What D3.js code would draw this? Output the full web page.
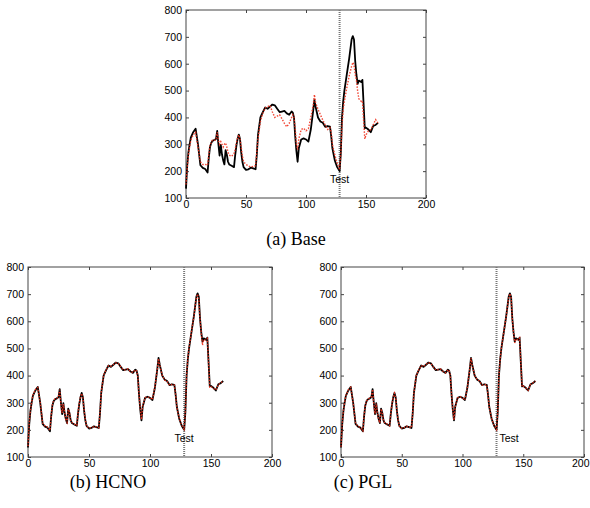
<!DOCTYPE html>
<html>
<head>
<meta charset="utf-8">
<script src="https://cdn.jsdelivr.net/npm/d3@7"></script>
<style>
  html, body { margin: 0; padding: 0; background: #fff; }
  svg { display: block; }
</style>
</head>
<body>
<svg id="chart" width="590" height="508"></svg>
<script>
// ---- data ----
const t = [0,1,2,3,4,6,8,10,12,14,16,18,19,20,21,22,24,25,26,27,28,29,30,31,32,33,34,35,36,38,40,41,42,43,44,45,46,47,48,50,52,54,56,58,59,60,62,64,66,68,70,72,74,76,78,80,82,84,86,88,89,90,91,92,93,94,96,98,100,102,104,106,107,108,110,112,114,116,118,120,121,122,124,126,128,129,130,131,132,134,136,138,139,140,141,142,143,144,146,147,148,149,150,152,154,156,158,160];

const actual = [135,220,270,300,325,345,358,300,222,212,208,195,250,290,305,312,317,320,350,300,258,298,262,240,225,278,262,235,225,220,215,260,295,320,336,320,270,235,215,205,207,213,210,207,260,335,400,420,437,432,440,448,445,432,420,422,424,415,410,422,418,400,330,275,235,285,318,322,318,310,355,425,465,440,400,385,380,365,368,366,330,285,240,215,200,265,400,460,500,560,620,690,703,690,610,560,525,537,532,540,450,360,362,355,345,368,372,380];

const predBase = [150,210,260,290,315,335,345,290,235,225,225,222,260,295,305,315,315,318,345,315,300,310,300,290,300,305,290,270,260,255,265,280,305,325,335,320,290,255,235,225,220,215,218,220,270,320,385,415,435,440,445,420,400,405,410,395,378,365,378,400,410,400,360,300,280,320,355,360,350,358,400,445,485,455,430,410,390,372,355,362,345,300,260,230,205,265,370,430,460,510,555,590,605,595,560,540,500,470,460,462,390,320,335,350,355,372,392,380];

const predHCNO = [140,225,272,302,328,348,356,302,225,214,210,198,252,292,307,314,318,322,348,296,262,295,265,238,228,275,265,232,227,221,217,262,297,322,334,318,272,237,214,206,208,212,211,208,262,337,402,421,436,434,441,447,444,433,421,421,425,414,411,421,417,398,328,278,238,287,319,321,319,311,357,424,462,438,401,384,379,364,367,365,328,283,242,217,202,268,402,462,502,562,618,688,700,680,608,558,512,532,530,536,448,358,360,353,347,366,374,379];

const predPGL = [138,222,271,301,326,347,357,301,223,213,209,197,251,291,306,313,318,321,349,299,259,297,263,239,226,277,263,234,226,221,216,261,296,321,335,319,271,236,215,206,208,213,210,208,261,336,401,421,437,433,441,448,445,432,421,422,424,415,410,421,418,399,329,276,236,286,318,322,318,310,356,425,464,439,401,385,380,365,367,366,329,284,241,216,201,266,401,461,501,561,619,689,702,688,609,559,520,535,531,538,449,359,361,354,346,367,373,380];

const xTicks = [0,50,100,150,200];
const yTicks = [100,200,300,400,500,600,700,800];
const testAt = 128;
const testLabel = "Test";
const captions = ["(a) Base", "(b) HCNO", "(c) PGL"];

// ---- drawing ----
const svg = d3.select("#chart");
const W = 590;

function panel(box, pred, labelMode, caption, capPos) {
  const x = d3.scaleLinear().domain([0,200]).range([box.l, box.r]);
  const y = d3.scaleLinear().domain([100,800]).range([box.b, box.t]);
  const g = svg.append("g");

  // frame
  g.append("rect").attr("x", box.l).attr("y", box.t)
    .attr("width", box.r - box.l).attr("height", box.b - box.t)
    .attr("fill", "none").attr("stroke", "#444").attr("stroke-width", 1);

  // axes (inward ticks)
  const ax = g.append("g").attr("transform", `translate(0,${box.b})`)
    .call(d3.axisBottom(x).tickValues(xTicks).tickSizeInner(-3).tickSizeOuter(0).tickPadding(4));
  const ay = g.append("g").attr("transform", `translate(${box.l},0)`)
    .call(d3.axisLeft(y).tickValues(yTicks).tickSizeInner(-3).tickSizeOuter(0).tickPadding(4));
  const axT = g.append("g").attr("transform", `translate(0,${box.t})`)
    .call(d3.axisTop(x).tickValues(xTicks).tickSizeInner(-3).tickSizeOuter(0).tickFormat(""));
  const ayR = g.append("g").attr("transform", `translate(${box.r},0)`)
    .call(d3.axisRight(y).tickValues(yTicks).tickSizeInner(-3).tickSizeOuter(0).tickFormat(""));
  [ax, ay, axT, ayR].forEach(a => {
    a.select(".domain").remove();
    a.selectAll(".tick line").attr("stroke", "#444");
    a.selectAll("text").attr("font-family", "Liberation Sans, Arial, sans-serif")
      .attr("font-size", 10.5).attr("fill", "#000");
  });
  ax.selectAll("text").attr("dy", "0.6em");
  // keep right-most x label inside the page
  ax.selectAll(".tick").each(function(d) {
    const tx = d3.select(this).select("text");
    if (x(d) + 9 > W) tx.attr("text-anchor", "end").attr("x", W - 1 - x(d));
  });

  // test line
  g.append("line").attr("x1", x(testAt)).attr("x2", x(testAt))
    .attr("y1", box.t).attr("y2", box.b)
    .attr("stroke", "#777").attr("stroke-width", 2).attr("stroke-dasharray", "1,1");

  const line = d3.line().x((d,i) => x(t[i])).y(d => y(d)).curve(d3.curveLinear);

  // actual
  g.append("path").datum(actual).attr("d", line)
    .attr("fill", "none").attr("stroke", "#000").attr("stroke-width", 1.8)
    .attr("stroke-linejoin", "round");
  // predicted (dotted red)
  g.append("path").datum(pred).attr("d", line)
    .attr("fill", "none").attr("stroke", "#f0321e").attr("stroke-width", 1.4)
    .attr("stroke-dasharray", "1.5,1.5").attr("opacity", 0.9);

  // test label
  const lt = g.append("text").text(testLabel)
    .attr("y", y(155)).attr("font-family", "Liberation Sans, Arial, sans-serif")
    .attr("font-size", 10.5).attr("fill", "#000");
  if (labelMode === "center") lt.attr("x", x(testAt)).attr("text-anchor", "middle");
  else lt.attr("x", x(testAt) + 3).attr("text-anchor", "start");

  svg.append("text").text(caption).attr("x", capPos[0]).attr("y", capPos[1])
    .attr("text-anchor", "middle").attr("font-family", "Liberation Serif, Times New Roman, serif")
    .attr("font-size", 18).attr("fill", "#000");
}

panel({l:186, r:426, t:10, b:198}, predBase, "center", captions[0], [296, 245]);
panel({l:28, r:272, t:267, b:457}, predHCNO, "center", captions[1], [108, 488]);
panel({l:341, r:584, t:267, b:457}, predPGL, "start", captions[2], [363, 488]);
</script>
</body>
</html>
